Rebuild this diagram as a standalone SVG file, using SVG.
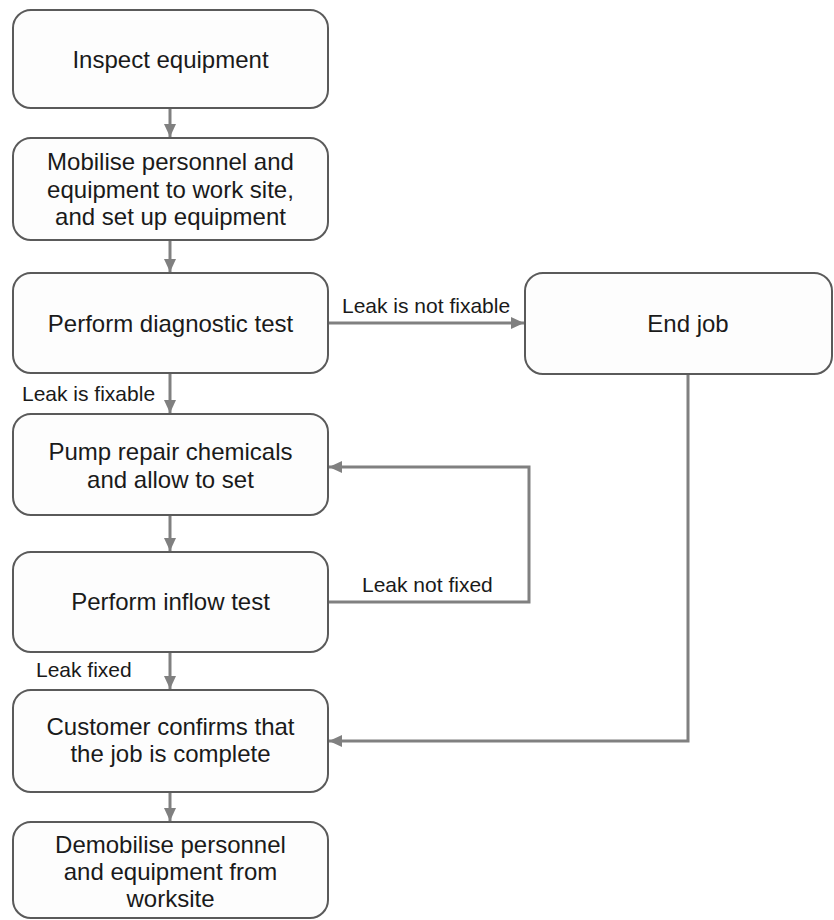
<svg xmlns="http://www.w3.org/2000/svg" width="834" height="920" viewBox="0 0 834 920">
<style>
.box{fill:#fdfdfd;stroke:#5a5a5a;stroke-width:2}
.t{font-family:"Liberation Sans",Arial,sans-serif;font-size:24px;fill:#1a1a1a;text-anchor:middle}
.lbl{font-family:"Liberation Sans",Arial,sans-serif;font-size:21px;fill:#1a1a1a}
.c{fill:none;stroke:#808080;stroke-width:3}
</style>
<defs>
<marker id="ah" markerUnits="userSpaceOnUse" markerWidth="14" markerHeight="14" refX="13" refY="7" orient="auto" viewBox="0 0 14 14">
<path d="M0,1 L13,7 L0,13 Z" fill="#808080"/>
</marker>
</defs>
<rect width="834" height="920" fill="#ffffff"/>
<g id="connectors">
<line class="c" x1="170" y1="108" x2="170" y2="137" marker-end="url(#ah)"/>
<line class="c" x1="170" y1="240" x2="170" y2="272" marker-end="url(#ah)"/>
<line class="c" x1="327" y1="323" x2="524" y2="323" marker-end="url(#ah)"/>
<line class="c" x1="170" y1="373" x2="170" y2="413" marker-end="url(#ah)"/>
<line class="c" x1="170" y1="515" x2="170" y2="551" marker-end="url(#ah)"/>
<polyline class="c" points="328,602 529,602 529,467 329,467" marker-end="url(#ah)"/>
<line class="c" x1="170" y1="652" x2="170" y2="689" marker-end="url(#ah)"/>
<polyline class="c" points="688,374 688,741 329,741" marker-end="url(#ah)"/>
<line class="c" x1="170" y1="792" x2="170" y2="821" marker-end="url(#ah)"/>
<text class="lbl" x="342" y="313">Leak is not fixable</text>
<text class="lbl" x="22" y="401">Leak is fixable</text>
<text class="lbl" x="362" y="592">Leak not fixed</text>
<text class="lbl" x="36" y="677">Leak fixed</text>
</g>
<g id="n1">
<rect class="box" x="13" y="10" width="315" height="98" rx="18"/>
<text class="t" x="170.5" y="68">Inspect equipment</text>
</g>
<g id="n2">
<rect class="box" x="13" y="138" width="315" height="102" rx="18"/>
<text class="t" x="170.5" y="170">Mobilise personnel and</text>
<text class="t" x="170.5" y="197.5">equipment to work site,</text>
<text class="t" x="170.5" y="225">and set up equipment</text>
</g>
<g id="n3">
<rect class="box" x="13" y="273" width="315" height="100" rx="18"/>
<text class="t" x="170.5" y="332">Perform diagnostic test</text>
</g>
<g id="n4">
<rect class="box" x="525" y="273" width="307" height="101" rx="18"/>
<text class="t" x="688" y="332">End job</text>
</g>
<g id="n5">
<rect class="box" x="13" y="414" width="315" height="101" rx="18"/>
<text class="t" x="170.5" y="460">Pump repair chemicals</text>
<text class="t" x="170.5" y="488">and allow to set</text>
</g>
<g id="n6">
<rect class="box" x="13" y="552" width="315" height="100" rx="18"/>
<text class="t" x="170.5" y="610">Perform inflow test</text>
</g>
<g id="n7">
<rect class="box" x="13" y="690" width="315" height="102" rx="18"/>
<text class="t" x="170.5" y="735">Customer confirms that</text>
<text class="t" x="170.5" y="762">the job is complete</text>
</g>
<g id="n8">
<rect class="box" x="13" y="822" width="315" height="96" rx="18"/>
<text class="t" x="170.5" y="853">Demobilise personnel</text>
<text class="t" x="170.5" y="880">and equipment from</text>
<text class="t" x="170.5" y="907">worksite</text>
</g>
</svg>
